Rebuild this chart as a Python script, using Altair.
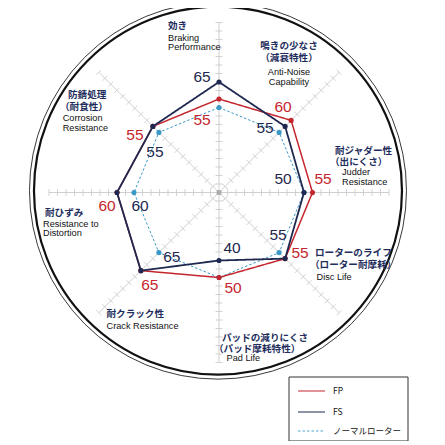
import math
import altair as alt
import pandas as pd

# ---------------- data ----------------
CATEGORY_JP = [
    ["効き"],
    ["鳴きの少なさ", "（減衰特性）"],
    ["耐ジャダー性", "（出にくさ）"],
    ["ローターのライフ", "（ローター耐摩耗）"],
    ["パッドの減りにくさ", "（パッド摩耗特性）"],
    ["耐クラック性"],
    ["耐ひずみ"],
    ["防錆処理", "（耐食性）"],
]
CATEGORY_EN = [
    ["Braking", "Performance"],
    ["Anti-Noise", "Capability"],
    ["Judder", "Resistance"],
    ["Disc Life"],
    ["Pad Life"],
    ["Crack Resistance"],
    ["Resistance to", "Distortion"],
    ["Corrosion", "Resistance"],
]
SERIES = ["FP", "FS", "ノーマルローター"]
FP_VALUES = [55, 60, 55, 55, 50, 65, 60, 55]
FS_VALUES = [65, 55, 50, 55, 40, 65, 60, 55]
NORMAL_VALUES = [50, 50, 50, 50, 50, 50, 50, 50]
AXIS_MAX = 100
TICK_STEP = 5

# ---------------- layout / style ----------------
W, H = 429, 433
CX, CY = 211.0, 184.5          # radar centre in chart pixels
K = 1.7                        # pixels per value unit
N = len(CATEGORY_JP)
NAVY = "#1f2850"
RED = "#c4262e"
TEAL = "#3a98c8"
JP_COLOR = "#1e2d5c"
STYLE = {
    "FP": dict(color=RED, width=1.5, dash=[1, 0]),
    "FS": dict(color=NAVY, width=1.8, dash=[1, 0]),
    "ノーマルローター": dict(color=TEAL, width=1.0, dash=[2.5, 2]),
}
# value-label offsets in screen px (dx, dy) relative to the data point
FS_LABEL_OFF = [(-17, -5), (-20, 2), (-21, -13.5), (-7, -23.5), (13, -12.5), (31, -13.6), (23, 13.5), (2, 25.6)]
FP_LABEL_OFF = [(-17, 21), (-8, -13.4), (10.5, -13.5), (15, -5.6), (14, 10.5), (9, 14.4), (-10, 13.5), (-18, 8.6)]
# category label anchors (page px) for JP lines, EN lines, and alignment
CAT_LAYOUT = [
    ([(168, 25.5)], [(168, 37.5), (168, 47)], "left"),
    ([(289, 46), (289, 58)], [(289, 72), (289, 81.5)], "center"),
    ([(335, 150.5), (330, 162)], [(342, 172), (342, 181.7)], "left"),
    ([(315, 252.6), (310, 264.5)], [(316.5, 276.7)], "left"),
    ([(222, 337.5), (214, 348.5)], [(226.5, 358)], "left"),
    ([(106.5, 313.8)], [(106.5, 326)], "left"),
    ([(45, 212.5)], [(43, 224), (43, 233.3)], "left"),
    ([(68, 94.7), (60, 107)], [(62.7, 118.3), (62.7, 127.7)], "left"),
]

xs = alt.Scale(domain=[-CX / K, (W - CX) / K], zero=False, nice=False)
ys = alt.Scale(domain=[(CY - H) / K, CY / K], zero=False, nice=False)


def polar(v, i):
    th = 2 * math.pi * i / N
    return v * math.sin(th), v * math.cos(th)


def XQ(f):
    return alt.X(f, type="quantitative", scale=xs, axis=None)


def YQ(f):
    return alt.Y(f, type="quantitative", scale=ys, axis=None)


layers = []

# outer disc rings
ring = pd.DataFrame({"x": [-0.6], "y": [1.1]})
layers.append(alt.Chart(ring).mark_point(shape="circle", size=377 ** 2, filled=False,
                                         stroke="#222", strokeWidth=0.9, opacity=1)
              .encode(x=XQ("x"), y=YQ("y")))
layers.append(alt.Chart(ring).mark_point(shape="circle", size=368 ** 2, filled=False,
                                         stroke="#111", strokeWidth=2.2, opacity=1)
              .encode(x=XQ("x"), y=YQ("y")))

# axes
ax_rows = []
for i in range(N):
    x2, y2 = polar(AXIS_MAX, i)
    ax_rows.append({"x": 0, "y": 0, "x2": x2, "y2": y2})
layers.append(alt.Chart(pd.DataFrame(ax_rows)).mark_rule(color="#cfcfcf", strokeWidth=1)
              .encode(x=XQ("x"), y=YQ("y"), x2="x2:Q", y2="y2:Q"))

# ticks
half = 3.5 / K
tk_rows = []
for i in range(N):
    th = 2 * math.pi * i / N
    px, py = math.cos(th), -math.sin(th)
    for t in range(TICK_STEP, AXIS_MAX + 1, TICK_STEP):
        cx, cy = polar(t, i)
        tk_rows.append({"x": cx - px * half, "y": cy - py * half,
                        "x2": cx + px * half, "y2": cy + py * half})
layers.append(alt.Chart(pd.DataFrame(tk_rows)).mark_rule(color="#c8c8c8", strokeWidth=0.8)
              .encode(x=XQ("x"), y=YQ("y"), x2="x2:Q", y2="y2:Q"))

# centre marker
ctr = pd.DataFrame({"x": [0], "y": [0]})
layers.append(alt.Chart(ctr).mark_point(shape="circle", size=18 ** 2, filled=False,
                                        stroke="#dddddd", strokeWidth=0.8, opacity=1)
              .encode(x=XQ("x"), y=YQ("y")))
layers.append(alt.Chart(ctr).mark_square(size=22, color="#aaaaaa", opacity=1)
              .encode(x=XQ("x"), y=YQ("y")))

# series polygons
series_values = {"FP": FP_VALUES, "FS": FS_VALUES, "ノーマルローター": NORMAL_VALUES}
for name in ["ノーマルローター", "FP", "FS"]:
    vals = series_values[name]
    rows = []
    for k in range(N + 1):
        i = k % N
        x, y = polar(vals[i], i)
        rows.append({"x": x, "y": y, "o": k})
    df = pd.DataFrame(rows)
    st = STYLE[name]
    layers.append(alt.Chart(df).mark_line(color=st["color"], strokeWidth=st["width"],
                                          strokeDash=st["dash"])
                  .encode(x=XQ("x"), y=YQ("y"), order="o:Q"))
for name in ["ノーマルローター", "FP", "FS"]:
    vals = series_values[name]
    rows = []
    for i in range(N):
        x, y = polar(vals[i], i)
        rows.append({"x": x, "y": y})
    st = STYLE[name]
    layers.append(alt.Chart(pd.DataFrame(rows)).mark_circle(size=26, color=st["color"], opacity=1)
                  .encode(x=XQ("x"), y=YQ("y")))

# value labels
for vals, offs, col in [(FP_VALUES, FP_LABEL_OFF, RED), (FS_VALUES, FS_LABEL_OFF, NAVY)]:
    rows = []
    for i in range(N):
        x, y = polar(vals[i], i)
        dx, dy = offs[i]
        rows.append({"x": x + dx / K, "y": y - dy / K, "t": str(vals[i])})
    layers.append(alt.Chart(pd.DataFrame(rows)).mark_text(font="Liberation Sans", fontSize=15.5,
                                                          color=col, baseline="middle", align="center")
                  .encode(x=XQ("x"), y=YQ("y"), text="t:N"))

# category labels
jp_rows, en_rows = [], []
for i in range(N):
    jp_pos, en_pos, al = CAT_LAYOUT[i]
    for line, (px, py) in zip(CATEGORY_JP[i], jp_pos):
        jp_rows.append({"px": px - 8, "py": py - 8, "text": line, "al": al})
    for line, (px, py) in zip(CATEGORY_EN[i], en_pos):
        en_rows.append({"px": px - 8, "py": py - 8, "text": line, "al": al})
jp_df = pd.DataFrame(jp_rows)
en_df = pd.DataFrame(en_rows)
for al in ["left", "center"]:
    d = jp_df[jp_df.al == al]
    if len(d):
        layers.append(alt.Chart(d).mark_text(font="Noto Sans CJK JP", fontSize=9.6, fontWeight="bold",
                                             color=JP_COLOR, align=al, baseline="middle")
                      .encode(x=alt.X("px:Q", scale=None), y=alt.Y("py:Q", scale=None), text="text:N"))
    d = en_df[en_df.al == al]
    if len(d):
        layers.append(alt.Chart(d).mark_text(font="Liberation Sans", fontSize=9.2,
                                             color="#111111", align=al, baseline="middle")
                      .encode(x=alt.X("px:Q", scale=None), y=alt.Y("py:Q", scale=None), text="text:N"))

# legend
one = pd.DataFrame({"a": [0]})
layers.append(alt.Chart(one).mark_rect(fill="white", stroke="#333333", strokeWidth=1)
              .encode(x=alt.value(289 - 8), x2=alt.value(408 - 8),
                      y=alt.value(377 - 8), y2=alt.value(441 - 8)))
LEG_Y = [391, 412, 431]
for name, ly in zip(SERIES, LEG_Y):
    st = STYLE[name]
    layers.append(alt.Chart(one).mark_rule(color=st["color"], strokeWidth=1.2 if name != "ノーマルローター" else 0.9,
                                           strokeDash=st["dash"])
                  .encode(x=alt.value(298 - 8), x2=alt.value(325 - 8), y=alt.value(ly - 8)))
    layers.append(alt.Chart(one).mark_text(text=name, font="Noto Sans CJK JP", fontSize=8.5,
                                           color="#111111", align="left", baseline="middle")
                  .encode(x=alt.value(333 - 8), y=alt.value(ly - 8)))

chart = alt.layer(*layers).resolve_scale(x="independent", y="independent").properties(
    width=W, height=H, padding=0, autosize=alt.AutoSizeParams(type="none")
).configure_view(stroke=None)

chart.save("out.html", embed_options={"renderer": "svg", "actions": False})
